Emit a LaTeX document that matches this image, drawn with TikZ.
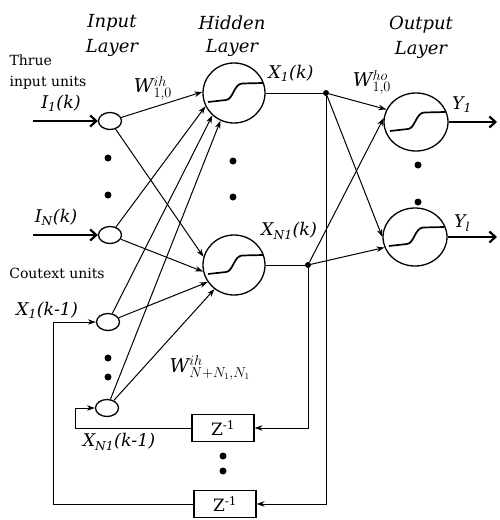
\documentclass[tikz,border=0pt]{standalone}
\usepackage{fontspec}
\setmainfont{DejaVu Serif}
\usetikzlibrary{arrows.meta,shapes.geometric}
\begin{document}
\begin{tikzpicture}[x=1pt,y=-1pt,
  inunit/.style={draw,ellipse,line width=1.3pt,minimum width=23pt,minimum height=17pt,inner sep=0pt},
  hid/.style={draw,ellipse,line width=1.3pt,minimum width=62pt,minimum height=60pt,inner sep=0pt},
  outn/.style={draw,ellipse,line width=1.3pt,minimum width=64pt,minimum height=58pt,inner sep=0pt},
  conn/.style={line width=1pt,-{Stealth[length=8pt,width=5.5pt]}},
  plain/.style={line width=1pt},
  big/.style={line width=2.2pt,-{Straight Barb[length=6pt,width=11pt]}},
  jdot/.style={circle,fill,inner sep=0pt,minimum size=6pt},
  vdot/.style={circle,fill,inner sep=0pt,minimum size=7pt},
  zbox/.style={draw,line width=1.2pt,minimum width=62pt,minimum height=27pt,inner sep=0pt,font=\fontsize{17}{17}\selectfont},
  ttl/.style={font=\fontsize{18}{18}\selectfont\itshape},
  lbl/.style={font=\fontsize{17.5}{17.5}\selectfont\itshape},
  wlbl/.style={font=\fontsize{19}{19}\selectfont\itshape},
  txt/.style={font=\fontsize{14}{21}\selectfont,align=left},
  sigm/.pic={\draw[line width=1.7pt] (-26,9) -- (-8,7) .. controls (-1,6.5) and (0,-9) .. (8,-9.5) -- (29,-10);}
]
\useasboundingbox (0,0) rectangle (499,520);

% units
\node[inunit] (I1) at (110,121) {};
\node[inunit] (IN) at (110,235) {};
\node[inunit] (C1) at (108,322) {};
\node[inunit] (CN) at (107,408) {};
\node[hid] (H1) at (234,93) {};
\node[hid] (H2) at (234,265) {};
\node[outn] (O1) at (416,122) {};
\node[outn] (O2) at (415,237) {};
\node[jdot] (J1) at (326,93) {};
\node[jdot] (J2) at (308,265) {};
\node[zbox] (Z1) at (223,428) {Z\textsuperscript{-1}};
\node[zbox] (Z2) at (225,504) {Z\textsuperscript{-1}};

\pic at (H1) {sigm};
\pic at (H2) {sigm};
\pic at (O1) {sigm};
\pic at (O2) {sigm};

% ellipsis dots
\node[vdot] (d1) at (108,158) {};
\node[vdot] (d2) at (108,195) {};
\node[vdot] (d3) at (108,358) {};
\node[vdot] (d4) at (108,377) {};
\node[vdot] (d5) at (233,161) {};
\node[vdot] (d6) at (233,197) {};
\node[vdot] (d7) at (418,165) {};
\node[vdot] (d8) at (418,202) {};
\node[vdot] (d9) at (223,456) {};
\node[vdot] (d10) at (223,471) {};

% free ends
\coordinate (inA) at (33,121);
\coordinate (inB) at (33,235);
\coordinate (outA) at (497,122);
\coordinate (outB) at (497,237);
\coordinate (f1) at (75,0);
\coordinate (f2) at (53,0);

\draw[big] (inA) -- (I1.west);
\draw[big] (inB) -- (IN.west);
\draw[big] (O1.east) -- (outA);
\draw[big] (O2.east) -- (outB);

% input -> hidden
\draw[conn] (I1) -- (H1.178);
\draw[conn] (IN) -- (H1.205);
\draw[conn] (C1) -- (H1.226);
\draw[conn] (CN) -- (H1.244);
\draw[conn] (I1) -- (H2.165);
\draw[conn] (IN) -- (H2.192);
\draw[conn] (C1) -- (H2.213);
\draw[conn] (CN) -- (H2.231);

% hidden -> junctions -> output
\draw[plain] (H1.east) -- (J1);
\draw[plain] (H2.east) -- (J2);
\draw[conn] (J1) -- (O1.157);
\draw[conn] (J2) -- (O1.173);
\draw[conn] (J1) -- (O2.180);
\draw[conn] (J2) -- (O2.199);

% feedback
\draw[conn] (J1) -- (J1 |- Z2.east) -- (Z2.east);
\draw[conn] (J2) -- (J2 |- Z1.east) -- (Z1.east);
\draw[conn] (Z1.west) -- (Z1.west -| f1) -- (f1 |- CN) -- (CN.west);
\draw[conn] (Z2.west) -- (Z2.west -| f2) -- (f2 |- C1) -- (C1.west);

% titles
\node[ttl] (t1a) at (112,23) {Input};
\node[ttl] (t1b) at (112,48) {Layer};
\node[ttl] (t2a) at (232,23) {Hidden};
\node[ttl] (t2b) at (232,48) {Layer};
\node[ttl] (t3a) at (421,25) {Output};
\node[ttl] (t3b) at (421,50) {Layer};

% labels
\node[txt,anchor=west] (tThrue) at (6,72) {Thrue\\input units};
\node[txt] (tCtx) at (57,273) {Coutext units};
\node[lbl] (lI1) at (61,103) {I\textsubscript{1}(k)};
\node[lbl] (lIN) at (56,217) {I\textsubscript{N}(k)};
\node[lbl] (lC1) at (47,310) {X\textsubscript{1}(k-1)};
\node[lbl] (lCN) at (119,442) {X\textsubscript{N1}(k-1)};
\node[lbl] (lX1) at (291,73) {X\textsubscript{1}(k)};
\node[lbl] (lXN) at (289,231) {X\textsubscript{N1}(k)};
\node[lbl] (lY1) at (462,105) {Y\textsubscript{1}};
\node[lbl] (lY2) at (462,223) {Y\textsubscript{l}};
\node[wlbl] (w1) at (153,88) {W$^{ih}_{1,0}$};
\node[wlbl] (w2) at (372,82) {W$^{ho}_{1,0}$};
\node[wlbl] (w3) at (210,368) {W$^{ih}_{N+N_1,N_1}$};
\end{tikzpicture}
\end{document}
